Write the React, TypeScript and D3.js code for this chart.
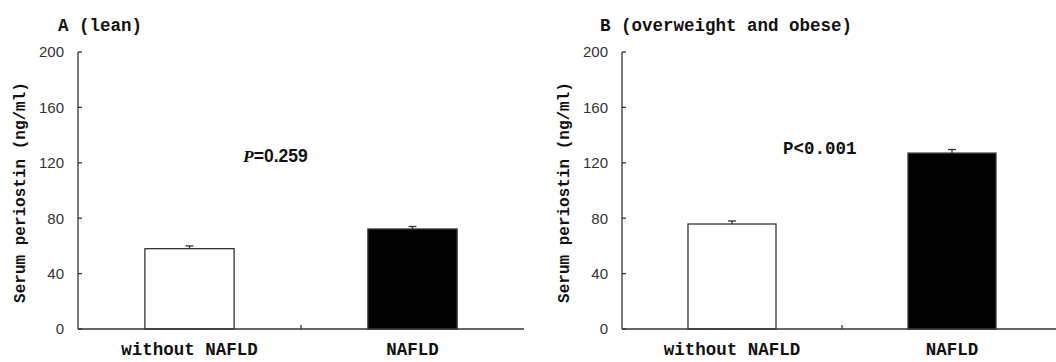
import { useEffect, useRef } from "react";
import * as d3 from "d3";

const categories = ["without NAFLD", "NAFLD"];
const yTicks = [0, 40, 80, 120, 160, 200];

const panelTitles = ["A (lean)", "B (overweight and obese)"];
const leanMeans = [58, 72.2];
const leanErrors = [2, 1.8];
const obeseMeans = [75.8, 127];
const obeseErrors = [2.2, 2.6];
const pLabels = ["=0.259", "P<0.001"];

const barFills = ["#ffffff", "#000000"];
const mono = "'Liberation Mono', 'DejaVu Sans Mono', monospace";
const sans = "'Liberation Sans', Arial, sans-serif";

export default function App() {
  const svgRef = useRef<SVGSVGElement>(null);

  useEffect(() => {
    if (!svgRef.current) return;
    const svg = d3.select(svgRef.current);
    svg.selectAll("*").remove();

    const panels = [
      { left: 78, right: 524, means: leanMeans, errs: leanErrors, titleX: 58, pX: 243, pY: 162 },
      { left: 622, right: 1062, means: obeseMeans, errs: obeseErrors, titleX: 600, pX: 783, pY: 154 },
    ];
    const top = 52;
    const bottom = 329;
    const axisColor = "#333";

    panels.forEach((p, i) => {
      const y = d3.scaleLinear().domain([0, 200]).range([bottom, top]);
      const x = d3
        .scaleBand<string>()
        .domain(categories)
        .range([p.left, p.right])
        .paddingInner(0.6)
        .paddingOuter(0.3);
      const g = svg.append("g");

      // title
      g.append("text")
        .attr("x", p.titleX)
        .attr("y", 31)
        .attr("font-family", mono)
        .attr("font-weight", "bold")
        .attr("font-size", "17.5px")
        .attr("fill", "#111")
        .text(panelTitles[i]);

      // bars
      g.selectAll(".bar")
        .data(p.means)
        .join("rect")
        .attr("x", (_, j) => x(categories[j])!)
        .attr("y", (d) => y(d))
        .attr("width", x.bandwidth())
        .attr("height", (d) => bottom - y(d))
        .attr("fill", (_, j) => barFills[j])
        .attr("stroke", axisColor)
        .attr("stroke-width", 1.3);

      // error bars (upper only)
      p.means.forEach((m, j) => {
        const cx = x(categories[j])! + x.bandwidth() / 2;
        g.append("line")
          .attr("x1", cx).attr("x2", cx)
          .attr("y1", y(m)).attr("y2", y(m + p.errs[j]))
          .attr("stroke", axisColor).attr("stroke-width", 1.3);
        g.append("line")
          .attr("x1", cx - 4).attr("x2", cx + 4)
          .attr("y1", y(m + p.errs[j])).attr("y2", y(m + p.errs[j]))
          .attr("stroke", axisColor).attr("stroke-width", 1.3);
      });

      // y axis
      g.append("line")
        .attr("x1", p.left).attr("x2", p.left)
        .attr("y1", y(200)).attr("y2", bottom)
        .attr("stroke", axisColor).attr("stroke-width", 1.3);
      yTicks.forEach((t) => {
        g.append("line")
          .attr("x1", p.left).attr("x2", p.left + 4)
          .attr("y1", y(t)).attr("y2", y(t))
          .attr("stroke", axisColor).attr("stroke-width", 1.3);
        g.append("text")
          .attr("x", p.left - 14)
          .attr("y", y(t))
          .attr("dy", "0.36em")
          .attr("text-anchor", "end")
          .attr("font-family", sans)
          .attr("font-size", "15px")
          .attr("fill", "#333")
          .text(t);
      });

      // x axis
      g.append("line")
        .attr("x1", p.left).attr("x2", p.right)
        .attr("y1", bottom).attr("y2", bottom)
        .attr("stroke", axisColor).attr("stroke-width", 1.3);
      const mid = (p.left + p.right) / 2;
      g.append("line")
        .attr("x1", mid).attr("x2", mid)
        .attr("y1", bottom).attr("y2", bottom - 4)
        .attr("stroke", axisColor).attr("stroke-width", 1.3);
      categories.forEach((c) => {
        g.append("text")
          .attr("x", x(c)! + x.bandwidth() / 2)
          .attr("y", 355)
          .attr("text-anchor", "middle")
          .attr("font-family", mono)
          .attr("font-weight", "bold")
          .attr("font-size", "17.5px")
          .attr("fill", "#111")
          .text(c);
      });

      // y label
      const yl = i === 0 ? 19 : 563;
      g.append("text")
        .attr("transform", `translate(${yl + 6},${(top + bottom) / 2 + 2}) rotate(-90)`)
        .attr("text-anchor", "middle")
        .attr("font-family", mono)
        .attr("font-weight", "bold")
        .attr("font-size", "16px")
        .attr("fill", "#111")
        .text("Serum periostin (ng/ml)");

      // p value
      const pt = g
        .append("text")
        .attr("x", p.pX)
        .attr("y", p.pY)
        .attr("font-size", "17.5px")
        .attr("fill", "#111");
      if (i === 0) {
        pt.append("tspan")
          .attr("font-family", "'Liberation Serif', serif")
          .attr("font-style", "italic")
          .attr("font-weight", "bold")
          .text("P");
        pt.append("tspan")
          .attr("font-family", sans)
          .attr("font-weight", "bold")
          .text(pLabels[0]);
      } else {
        pt.attr("font-family", mono).attr("font-weight", "bold").text(pLabels[1]);
      }
    });
  }, []);

  return (
    <svg
      ref={svgRef}
      width={1056}
      height={362}
      style={{ position: "absolute", left: 0, top: 0, background: "#fff" }}
    />
  );
}
